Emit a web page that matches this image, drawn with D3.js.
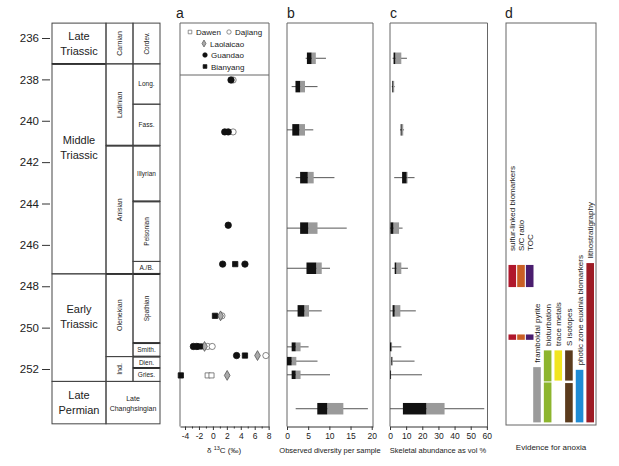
<!DOCTYPE html>
<html>
<head>
<meta charset="utf-8">
<script src="https://cdn.jsdelivr.net/npm/d3@7"></script>
<style>
  body { margin: 0; background: #fff; }
  svg { display: block; }
</style>
</head>
<body>
<div id="chart"></div>
<script>
// ---- Data ----

const ageTicks = [236, 238, 240, 242, 244, 246, 248, 250, 252];

// Chronostratigraphy, ages in Ma (top / base)
const periods = [
  { name: ['Late', 'Triassic'], top: 235.28, base: 237.25 },
  { name: ['Middle', 'Triassic'], top: 237.25, base: 247.4 },
  { name: ['Early', 'Triassic'], top: 247.4, base: 252.6 },
  { name: ['Late', 'Permian'], top: 252.6, base: 254.65 }
];
const stages = [
  { name: 'Carnian', top: 235.28, base: 237.25 },
  { name: 'Ladinian', top: 237.25, base: 241.2 },
  { name: 'Anisian', top: 241.2, base: 247.4 },
  { name: 'Olenekian', top: 247.4, base: 251.4 },
  { name: 'Ind.', top: 251.4, base: 252.6 },
  { name: 'Late Changhsingian', top: 252.6, base: 254.65 }
];
const substages = [
  { name: 'Cordev.', top: 235.28, base: 237.25 },
  { name: 'Long.', top: 237.25, base: 239.2 },
  { name: 'Fass.', top: 239.2, base: 241.2 },
  { name: 'Illyrian', top: 241.2, base: 243.9 },
  { name: 'Pelsonian', top: 243.9, base: 246.8 },
  { name: 'A./B.', top: 246.8, base: 247.4 },
  { name: 'Spathian', top: 247.4, base: 250.75 },
  { name: 'Smith.', top: 250.75, base: 251.4 },
  { name: 'Dien.', top: 251.4, base: 251.95 },
  { name: 'Gries.', top: 251.95, base: 252.6 }
];

// a: carbon isotopes, [age Ma, d13C permil]
const d13cSites = ['Dawen', 'Dajiang', 'Laolaicao', 'Guandao', 'Bianyang'];
const dawen = [[252.31, -0.75], [252.31, -0.2]];
const dajiang = [[238.03, 2.9], [240.54, 2.9], [249.43, 1.3], [250.91, -0.75], [250.91, -0.1], [251.35, 7.6]];
const laolaicao = [[249.43, 1.1], [250.91, -1.2], [251.35, 6.4], [252.31, 2.05]];
const guandao = [[238.03, 2.6], [240.54, 1.7], [240.54, 2.2], [245.05, 2.2], [246.93, 1.4], [246.93, 4.6],
  [250.91, -2.8], [250.91, -2.3], [251.35, 3.4]];
const bianyang = [[246.93, 3.2], [249.43, 0.3], [250.91, -1.85], [251.35, 4.6], [252.31, -4.6]];

// b, c: binned box plots, [min, q1, median, q3, max]
const binAges = [236.98, 238.35, 240.44, 242.75, 245.19, 247.13, 249.19, 250.93, 251.62, 252.28, 253.92];
const diversity = [
  [4.4, 4.7, 5.8, 6.8, 9.2],
  [1.1, 2.0, 3.1, 4.25, 7.2],
  [0, 1.25, 2.9, 4.25, 6.2],
  [2.05, 3.1, 4.9, 6.3, 11.2],
  [0, 3.1, 5.0, 7.2, 14.1],
  [0, 4.6, 6.9, 8.2, 10.15],
  [0, 2.5, 4.1, 5.2, 8.2],
  [0, 1.1, 2.05, 3.2, 5.1],
  [0, 0, 1.1, 2.2, 7.2],
  [0, 1.1, 2.05, 3.2, 10.15],
  [2.05, 7.15, 9.5, 13.3, 19.1]
];
const skeletal = [
  [1.6, 2.2, 3.3, 7.0, 10.5],
  [1.1, 1.4, 1.8, 2.6, 2.9],
  [6.2, 6.6, 7.2, 8.2, 8.7],
  [2.6, 7.5, 10.3, 10.9, 15.2],
  [0, 0.3, 2.1, 5.6, 7.8],
  [1.2, 2.9, 3.9, 7.0, 11.1],
  [0, 1.6, 2.9, 6.4, 16],
  [0, 0, 0.8, 0.9, 7],
  [0.8, 0.8, 1.2, 1.6, 15.2],
  [0, 0, 0.2, 0.3, 19.8],
  [0, 8.0, 22.5, 33.8, 58.4]
];

// d: evidence for anoxia, intervals [top, base] in Ma
const evidence = ['sulfur-linked biomarkers', 'S/C ratio', 'TOC', 'framboidal pyrite', 'bioturbation',
  'trace metals', 'S isotopes', 'photic zone euxinia biomarkers', 'lithostratigraphy'];
const evidenceIntervals = [
  [[246.97, 248.04], [250.33, 250.59]],
  [[246.97, 248.04], [250.33, 250.59]],
  [[246.97, 248.04], [250.33, 250.59]],
  [[251.91, 254.58]],
  [[251.1, 252.6], [252.65, 254.58]],
  [[251.1, 252.56]],
  [[251.1, 252.56], [252.68, 254.58]],
  [[252.04, 254.58]],
  [[246.88, 254.58]]
];

// ---- Layout / style ----
const FONT = '"Liberation Sans", Arial, Helvetica, sans-serif';
const W = 619, H = 466;
const plotTop = 23, axisY = 426.5;
const ink = '#222', frame = '#666';

const rotatedSubstages = new Set(['Cordev.', 'Pelsonian', 'Spathian']);
const spanningStages = new Set(['Late Changhsingian']);
const heavyBase = new Set(['Late Triassic', 'Ladinian', 'Illyrian', 'Anisian', 'A./B.', 'Spathian', 'Smith.', 'Dien.']);

const svg = d3.select('#chart').append('svg')
  .attr('width', W).attr('height', H)
  .attr('font-family', FONT);
svg.append('rect').attr('width', W).attr('height', H).attr('fill', '#fff');

const y = d3.scaleLinear().domain([236, 252]).range([38, 369]);

// ---- Age axis ----
svg.append('g')
  .attr('transform', 'translate(50,0)')
  .call(d3.axisLeft(y).tickValues(ageTicks).tickSize(8).tickPadding(3))
  .call(g => g.select('.domain').remove())
  .call(g => g.attr('font-family', FONT))
  .call(g => g.selectAll('line').attr('stroke', '#333'))
  .call(g => g.selectAll('text').attr('font-size', 11.5).attr('fill', ink));

// ---- Stratigraphic column ----
const cols = [52, 106, 133, 160];
const strat = svg.append('g');

function cell(x0, x1, d) {
  strat.append('rect')
    .attr('x', x0).attr('y', y(d.top))
    .attr('width', x1 - x0).attr('height', y(d.base) - y(d.top))
    .attr('fill', 'none').attr('stroke', '#444').attr('stroke-width', 1);
}

function heavy(x0, x1, age) {
  strat.append('line')
    .attr('x1', x0).attr('x2', x1).attr('y1', y(age)).attr('y2', y(age))
    .attr('stroke', '#111').attr('stroke-width', 1.8);
}

periods.forEach(d => {
  cell(cols[0], cols[1], d);
  const h = y(d.base) - y(d.top);
  // tall cells carry their label a little above the middle
  const cy = (y(d.top) + y(d.base)) / 2 - (h > 80 ? h * 0.1 : 0);
  strat.append('text')
    .attr('x', (cols[0] + cols[1]) / 2).attr('y', cy - 7.5 + 4)
    .attr('text-anchor', 'middle').attr('font-size', 11).attr('fill', ink)
    .selectAll('tspan').data(d.name).join('tspan')
    .attr('x', (cols[0] + cols[1]) / 2).attr('dy', (t, i) => i ? 15 : 0)
    .text(t => t);
  if (heavyBase.has(d.name.join(' '))) heavy(cols[0], cols[1], d.base);
});

stages.forEach(d => {
  const span = spanningStages.has(d.name);
  const x1 = span ? cols[3] : cols[2];
  cell(cols[1], x1, d);
  const cx = (cols[1] + x1) / 2;
  const cy = (y(d.top) + y(d.base)) / 2;
  if (span) {
    strat.append('text')
      .attr('text-anchor', 'middle').attr('font-size', 7).attr('fill', ink)
      .attr('y', cy - 2)
      .selectAll('tspan').data(d.name.split(' ')).join('tspan')
      .attr('x', cx).attr('dy', (t, i) => i ? 10 : 0)
      .text(t => t);
  } else {
    strat.append('text')
      .attr('transform', `translate(${cx + 2.5},${cy}) rotate(-90)`)
      .attr('text-anchor', 'middle').attr('font-size', 7).attr('fill', ink)
      .text(d.name);
  }
  if (heavyBase.has(d.name)) heavy(cols[1], cols[3], d.base);
});

substages.forEach(d => {
  cell(cols[2], cols[3], d);
  const cx = (cols[2] + cols[3]) / 2;
  const cy = (y(d.top) + y(d.base)) / 2;
  const t = strat.append('text')
    .attr('text-anchor', 'middle').attr('font-size', 6.5).attr('fill', ink)
    .text(d.name);
  if (rotatedSubstages.has(d.name)) {
    t.attr('transform', `translate(${cx + 2.3},${cy}) rotate(-90)`);
  } else {
    t.attr('x', cx).attr('y', cy + 2.3);
  }
  if (heavyBase.has(d.name)) heavy(cols[2], cols[3], d.base);
});

// ---- Shared panel helpers ----
function panelFrame(x0, x1, bottom) {
  const g = svg.append('g');
  g.append('path')
    .attr('d', `M${x0},${bottom}V${plotTop}H${x1}V${bottom}`)
    .attr('fill', 'none').attr('stroke', frame).attr('stroke-width', 1);
  return g;
}

function panelLetter(x, letter) {
  svg.append('text').attr('x', x).attr('y', 17.5)
    .attr('font-size', 14).attr('fill', ink).text(letter);
}

function bottomAxis(scale, ticks, minor) {
  const g = svg.append('g').attr('transform', `translate(0,${axisY})`);
  if (minor) {
    g.append('g')
      .call(d3.axisBottom(scale).tickValues(minor).tickSize(2).tickFormat(''))
      .call(s => s.select('.domain').remove())
      .call(s => s.selectAll('line').attr('stroke', '#333'));
  }
  g.append('g')
    .call(d3.axisBottom(scale).tickValues(ticks).tickSize(3.5).tickSizeOuter(0)
      .tickPadding(3).tickFormat(d => String(d)))
    .call(s => s.attr('font-family', FONT))
    .call(s => s.select('.domain').attr('stroke', '#333'))
    .call(s => s.selectAll('line').attr('stroke', '#333'))
    .call(s => s.selectAll('text').attr('font-size', 8.5).attr('fill', ink));
  return g;
}

function axisTitle(x, text) {
  return svg.append('text').attr('x', x).attr('y', 453)
    .attr('text-anchor', 'middle').attr('font-size', 7.5).attr('fill', ink)
    .text(text);
}

// ---- Panel a: d13C ----
const xA = d3.scaleLinear().domain([-4.72, 8.05]).range([180, 269]);
const gA = panelFrame(180, 269, axisY);
gA.append('line').attr('x1', 180).attr('x2', 269).attr('y1', 75).attr('y2', 75)
  .attr('stroke', frame);
panelLetter(176, 'a');
bottomAxis(xA, d3.range(-4, 9, 2), d3.range(-3, 8, 2));
const tA = axisTitle(xA(1.6), 'δ ').attr('font-size', 8);
tA.append('tspan').attr('font-size', 5.5).attr('dy', -3).text('13');
tA.append('tspan').attr('dy', 3).text('C (‰)');

const siteStyle = {
  Dawen: { shape: d3.symbolSquare, size: 26, fill: '#fff', stroke: '#666' },
  Dajiang: { shape: d3.symbolCircle, size: 30, fill: '#fff', stroke: '#666' },
  Laolaicao: { shape: d3.symbolDiamond, size: 28, fill: '#aaa', stroke: '#555' },
  Guandao: { shape: d3.symbolCircle, size: 32, fill: '#111', stroke: '#111' },
  Bianyang: { shape: d3.symbolSquare, size: 28, fill: '#111', stroke: '#111' }
};
const siteData = { Dawen: dawen, Dajiang: dajiang, Laolaicao: laolaicao, Guandao: guandao, Bianyang: bianyang };

d13cSites.forEach(site => {
  const s = siteStyle[site];
  gA.append('g').selectAll('path')
    .data(siteData[site]).join('path')
    .attr('d', d3.symbol(s.shape, s.size))
    .attr('transform', d => `translate(${xA(d[1])},${y(d[0])})`)
    .attr('fill', s.fill).attr('stroke', s.stroke).attr('stroke-width', 0.8);
});

// legend
const legendPos = {
  Dawen: [190, 32], Dajiang: [229, 32], Laolaicao: [204, 43.5], Guandao: [205, 55], Bianyang: [205, 66.5]
};
d13cSites.forEach(site => {
  const s = siteStyle[site];
  const [lx, ly] = legendPos[site];
  gA.append('path')
    .attr('d', d3.symbol(s.shape, s.size * 0.5))
    .attr('transform', `translate(${lx},${ly})`)
    .attr('fill', s.fill).attr('stroke', s.stroke).attr('stroke-width', 0.7);
  gA.append('text').attr('x', lx + 6).attr('y', ly + 3)
    .attr('font-size', 8).attr('fill', ink).text(site);
});

// ---- Box plot panels ----
function boxPanel(x, stats) {
  const g = svg.append('g');
  const rows = binAges.map(a => y(a));
  stats.forEach((s, i) => {
    const cy = rows[i];
    const gap = d3.min([rows[i - 1], rows[i + 1]].filter(v => v !== undefined).map(v => Math.abs(v - cy)));
    const h = Math.min(11.5, gap * 0.62);
    g.append('line')
      .attr('x1', x(s[0])).attr('x2', x(s[4])).attr('y1', cy).attr('y2', cy)
      .attr('stroke', '#555').attr('stroke-width', 1);
    g.append('rect')
      .attr('x', x(s[2])).attr('width', Math.max(0.8, x(s[3]) - x(s[2])))
      .attr('y', cy - h / 2).attr('height', h).attr('fill', '#9a9a9a');
    g.append('rect')
      .attr('x', x(s[1])).attr('width', Math.max(0.8, x(s[2]) - x(s[1])))
      .attr('y', cy - h / 2).attr('height', h).attr('fill', '#111');
  });
  return g;
}

// b: diversity
const xB = d3.scaleLinear().domain([0, 20.3]).range([287, 373]);
panelFrame(287, 373, axisY);
panelLetter(287, 'b');
bottomAxis(xB, [0, 5, 10, 15, 20]);
axisTitle(330, 'Observed diversity per sample');
boxPanel(xB, diversity);

// c: skeletal abundance
const xC = d3.scaleLinear().domain([0, 60.4]).range([390, 487.5]);
panelFrame(390, 487.5, axisY);
panelLetter(390, 'c');
bottomAxis(xC, d3.range(0, 61, 10));
axisTitle(438, 'Skeletal abundance as vol %');
boxPanel(xC, skeletal);

// ---- Panel d: evidence for anoxia ----
const dBottom = 425;
svg.append('rect').attr('x', 506).attr('y', plotTop)
  .attr('width', 90).attr('height', dBottom - plotTop)
  .attr('fill', 'none').attr('stroke', frame);
panelLetter(505, 'd');
svg.append('text').attr('x', 551).attr('y', 450)
  .attr('text-anchor', 'middle').attr('font-size', 8).attr('fill', ink)
  .text('Evidence for anoxia');

const xD = d3.scaleLinear().domain([0, 2, 3, 8]).range([512.3, 529.7, 537, 590.2]);
const evColor = d3.scaleOrdinal(evidence,
  ['#b0172c', '#c95f25', '#4a1d6e', '#9b9b9b', '#8db52e', '#f1e51e', '#5b3b1d', '#1f8bd4', '#9d1c25']);
const barW = 7.6;

const gD = svg.append('g');
evidence.forEach((name, i) => {
  const cx = xD(i);
  gD.selectAll(null).data(evidenceIntervals[i]).join('rect')
    .attr('x', cx - barW / 2).attr('width', barW)
    .attr('y', d => y(d[0])).attr('height', d => y(d[1]) - y(d[0]))
    .attr('fill', evColor(name));
  const topY = y(evidenceIntervals[i][0][0]);
  const labelGap = i < 3 ? 14 : 4.5;
  gD.append('text')
    .attr('transform', `translate(${cx + 3},${topY - labelGap}) rotate(-90)`)
    .attr('font-size', 8).attr('fill', ink)
    .text(name);
});
</script>
</body>
</html>
